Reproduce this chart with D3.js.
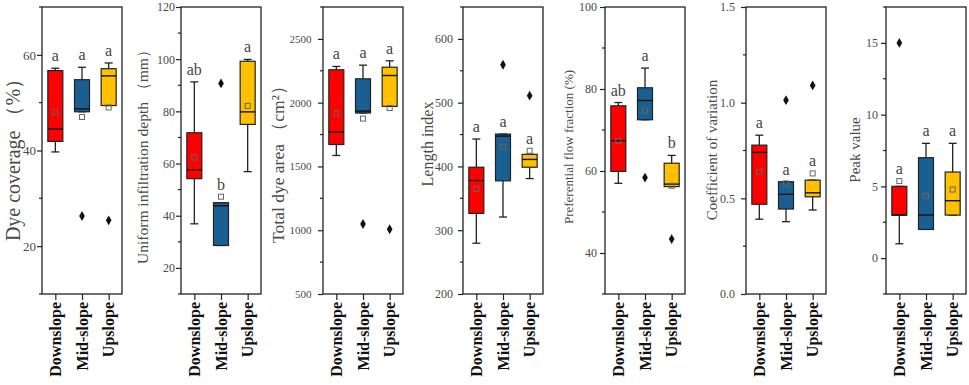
<!DOCTYPE html>
<html>
<head>
<meta charset="utf-8">
<script src="https://cdn.jsdelivr.net/npm/d3@7"></script>
<style>
  body { margin: 0; background: #fff; }
  svg { display: block; }
  text { font-family: "Liberation Serif", "Times New Roman", serif; }
</style>
</head>
<body>
<script>
// slope positions, shared by all panels
const groups = ["Downslope", "Mid-slope", "Upslope"]

// box stats per group: [min, q1, median, q3, max, mean]
const dyeCoverage = [[39.7, 41.9, 44.5, 56.7, 57.2, 48.0], [48.1, 48.1, 48.7, 54.8, 57.4, 47.0], [49.4, 49.4, 55.6, 57.1, 58.3, 49.0]]
const dyeCoverageOut = [[], [26.3], [25.4]]
const dyeCoverageSig = ["a", "a", "a"]

const infilDepth = [[36.9, 54.2, 57.6, 71.8, 91.3, 62.3], [28.6, 28.6, 43.8, 45.0, 45.0, 47.3], [56.9, 75.0, 79.8, 99.2, 99.9, 82.1]]
const infilDepthOut = [[], [90.7], []]
const infilDepthSig = ["ab", "b", "a"]

const dyeArea = [[1586, 1672, 1770, 2258, 2284, 1914], [1919, 1919, 1934, 2187, 2294, 1875], [1971, 1971, 2213, 2278, 2328, 1958]]
const dyeAreaOut = [[], [1049], [1008]]
const dyeAreaSig = ["a", "a", "a"]

const lengthIndex = [[279.6, 326.4, 377.9, 398.8, 443, 365], [320.7, 377.4, 447.6, 450.7, 450.7, 431], [381, 398.8, 411, 419, 419, 424.6]]
const lengthIndexOut = [[], [559.4], [511]]
const lengthIndexSig = ["a", "a", "a"]

const prefFlow = [[57.0, 59.9, 67.4, 75.9, 76.7, 67.3], [72.5, 72.5, 77.2, 80.3, 85.1, 74.7], [56.2, 56.2, 56.8, 61.9, 63.8, 56.4]]
const prefFlowOut = [[], [58.4], [43.4]]
const prefFlowSig = ["ab", "a", "b"]

const coefVar = [[0.391, 0.469, 0.740, 0.778, 0.830, 0.639], [0.378, 0.444, 0.521, 0.587, 0.587, 0.578], [0.439, 0.508, 0.529, 0.595, 0.595, 0.630]]
const coefVarOut = [[], [1.013], [1.09]]
const coefVarSig = ["a", "a", "a"]

const peakValue = [[1, 3, 3, 5, 5, 5.37], [2, 2, 3, 7, 8, 4.35], [3, 3, 4, 6, 8, 4.78]]
const peakValueOut = [[15], [], []]
const peakValueSig = ["a", "a", "a"]

const titles = ["Dye coverage （%）", "Uniform infiltration depth （mm）", "Total dye area （cm²）",
    "Length index", "Preferential flow fraction (%)", "Coefficient of variation", "Peak value"]
const yDomains = [[10, 70], [10, 120], [500, 2750], [200, 650], [30, 100], [0, 1.5], [-2.5, 17.5]]
const majorTicks = [[20, 40, 60], [20, 40, 60, 80, 100, 120], [500, 1000, 1500, 2000, 2500],
    [200, 300, 400, 500, 600], [40, 60, 80, 100], [0, 0.5, 1.0, 1.5], [0, 5, 10, 15]]
const minorStep = [10, 10, 250, 50, 10, 0.25, 2.5]

const boxes = [dyeCoverage, infilDepth, dyeArea, lengthIndex, prefFlow, coefVar, peakValue]
const outliers = [dyeCoverageOut, infilDepthOut, dyeAreaOut, lengthIndexOut, prefFlowOut, coefVarOut, peakValueOut]
const letters = [dyeCoverageSig, infilDepthSig, dyeAreaSig, lengthIndexSig, prefFlowSig, coefVarSig, peakValueSig]

const colors = ["#ff0000", "#1a5f91", "#ffc000"]

// layout
const [width, height] = [969, 385]
const plotTop = 7, plotBottom = 294, pw = 80
const panelLeft = [42, 181, 323, 463, 605, 746, 886]
const titleOff = [29, 38, 45, 36, 37, 34, 31]
const titleY = [155, 153, 160, 144, 147, 150, 150]
const titleSize = [20, 15.5, 17.5, 16, 13, 15, 15]
const tickSize = [13, 12, 11, 12, 12, 12, 12]
const tickPad = [1, 1, 6.5, 5, 3, 6, 3]

const svg = d3.select("body").append("svg")
    .attr("width", width)
    .attr("height", height)

boxes.forEach((data, p) => {
    const x0 = panelLeft[p]
    const g = svg.append("g")

    const x = d3.scalePoint().domain(groups).range([x0, x0 + pw]).padding(0.5)
    const y = d3.scaleLinear().domain(yDomains[p]).range([plotBottom, plotTop])

    // minor ticks
    const [d0, d1] = yDomains[p]
    const minors = d3.range(Math.ceil(d0 / minorStep[p]), Math.floor(d1 / minorStep[p]) + 1)
        .map(k => +(k * minorStep[p]).toFixed(4))
        .filter(v => !majorTicks[p].some(m => Math.abs(m - v) < 1e-6))
    g.append("g").selectAll("line").data(minors).join("line")
        .attr("x1", x0 - 3).attr("x2", x0)
        .attr("y1", d => y(d)).attr("y2", d => y(d))
        .attr("stroke", "#222").attr("stroke-width", 1.2)

    const yAxis = g.append("g")
        .attr("transform", `translate(${x0},0)`)
        .call(d3.axisLeft(y).tickValues(majorTicks[p]).tickSize(5).tickPadding(tickPad[p])
            .tickFormat(p === 5 ? d3.format(".1f") : d3.format("d")))
        .attr("font-family", "'Liberation Serif', serif")
    yAxis.select(".domain").remove()
    yAxis.selectAll("line").attr("stroke", "#222").attr("stroke-width", 1.2)
    yAxis.selectAll("text").attr("fill", "#4a4a4a").style("font-size", tickSize[p] + "px")

    const xAxis = g.append("g")
        .attr("transform", `translate(0,${plotBottom})`)
        .call(d3.axisBottom(x).tickSize(6).tickFormat(""))
    xAxis.select(".domain").remove()
    xAxis.selectAll("line").attr("stroke", "#222").attr("stroke-width", 1.2)

    g.selectAll(".xlab").data(groups).join("text")
        .attr("transform", d => `translate(${x(d)},${plotBottom + 8}) rotate(-90)`)
        .attr("dy", "0.35em")
        .attr("text-anchor", "end")
        .attr("font-weight", "bold")
        .attr("font-size", 16)
        .attr("fill", "#111")
        .text(d => d)

    // frame
    g.append("rect")
        .attr("x", x0).attr("y", plotTop)
        .attr("width", pw).attr("height", plotBottom - plotTop)
        .attr("fill", "none").attr("stroke", "#222").attr("stroke-width", 1.3)

    g.append("text")
        .attr("transform", `translate(${x0 - titleOff[p]},${titleY[p]}) rotate(-90)`)
        .attr("dy", "0.35em")
        .attr("text-anchor", "middle")
        .attr("font-size", titleSize[p])
        .attr("fill", "#4a4a4a")
        .text(titles[p])

    const bw = 15, cw = 8
    data.forEach((s, i) => {
        const [lo, q1, med, q3, hi, mean] = s
        const cx = x(groups[i])
        const bg = g.append("g")
        // whiskers
        bg.append("line").attr("x1", cx).attr("x2", cx).attr("y1", y(hi)).attr("y2", y(q3))
            .attr("stroke", "#222").attr("stroke-width", 1.3)
        bg.append("line").attr("x1", cx).attr("x2", cx).attr("y1", y(q1)).attr("y2", y(lo))
            .attr("stroke", "#222").attr("stroke-width", 1.3)
        bg.selectAll(".cap").data([lo, hi]).join("line")
            .attr("x1", cx - cw / 2).attr("x2", cx + cw / 2)
            .attr("y1", d => y(d)).attr("y2", d => y(d))
            .attr("stroke", "#222").attr("stroke-width", 1.3)
        bg.append("rect")
            .attr("x", cx - bw / 2).attr("y", y(q3))
            .attr("width", bw).attr("height", y(q1) - y(q3))
            .attr("fill", colors[i]).attr("stroke", "#222").attr("stroke-width", 1.2)
        bg.append("line").attr("x1", cx - bw / 2).attr("x2", cx + bw / 2)
            .attr("y1", y(med)).attr("y2", y(med))
            .attr("stroke", "#111").attr("stroke-width", 1.4)
        bg.append("rect")
            .attr("x", cx - 2.5).attr("y", y(mean) - 2.5)
            .attr("width", 5).attr("height", 5)
            .attr("fill", "none").attr("stroke", "#666").attr("stroke-width", 1)
        bg.selectAll(".out").data(outliers[p][i]).join("path")
            .attr("d", d3.symbol(d3.symbolDiamond, 28))
            .attr("transform", d => `translate(${cx},${y(d)})`)
            .attr("fill", "#111")
        bg.append("text")
            .attr("x", cx)
            .attr("y", y(Math.max(hi, mean)) - 7)
            .attr("text-anchor", "middle")
            .attr("font-size", 16)
            .attr("fill", "#444")
            .text(letters[p][i])
    })
})
</script>
</body>
</html>
